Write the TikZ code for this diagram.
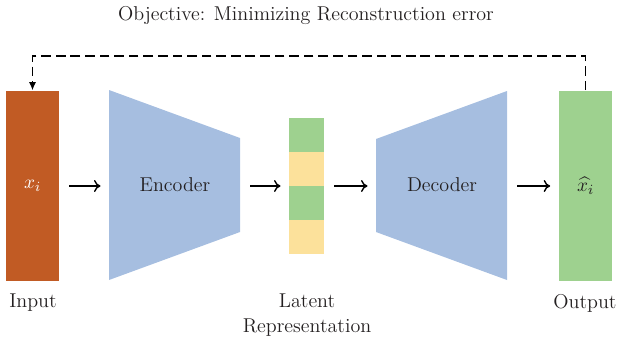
\documentclass[tikz,border=0pt]{standalone}
\usepackage{amsmath}
\usepackage{amssymb}
\usepackage{tikz}
\usetikzlibrary{arrows.meta}
\definecolor{inorange}{RGB}{193,91,36}
\definecolor{netblue}{RGB}{166,190,224}
\definecolor{latgreen}{RGB}{158,209,143}
\definecolor{latyellow}{RGB}{252,225,155}
\definecolor{txtgray}{RGB}{35,31,32}

\begin{document}
\begin{tikzpicture}[x=0.02cm,y=-0.02cm,
	vec/.style={rectangle,inner sep=0pt,minimum width=1.06cm,minimum height=3.82cm},
	cell/.style={rectangle,inner sep=0pt,minimum width=0.7cm,minimum height=0.68cm},
	flow/.style={-{To[length=1.3mm,width=2.4mm]},line width=0.8pt,shorten <=0.2cm,shorten >=0.17cm},
	txt/.style={text=txtgray,font=\fontsize{11.4}{14}\selectfont}]
	\useasboundingbox (0,0) rectangle (617,345);
	\node[txt] (title) at (306,16) {Objective: Minimizing Reconstruction error};
	\node[vec,fill=inorange,text=white,font=\fontsize{11.4}{14}\selectfont] (in) at (32.5,186) {$x_i$};
	\node[vec,fill=latgreen,txt] (out) at (585.5,186) {$\widehat{x_i}$};
	\fill[netblue] (109,90) -- (240,138) -- (240,232) -- (109,280) -- cycle;
	\node[txt] (enc) at (175,185) {Encoder};
	\coordinate (enc-in) at (109,186);
	\coordinate (enc-out) at (240,186);
	\node[cell,fill=latgreen] (z1) at (306.5,135) {};
	\node[cell,fill=latyellow] (z2) at (306.5,169) {};
	\node[cell,fill=latgreen] (z3) at (306.5,203) {};
	\node[cell,fill=latyellow] (z4) at (306.5,237) {};
	\coordinate (lat-in) at (289,186);
	\coordinate (lat-out) at (324,186);
	\fill[netblue] (376,139) -- (507,91) -- (507,280) -- (376,232) -- cycle;
	\node[txt] (dec) at (442,185) {Decoder};
	\coordinate (dec-in) at (376,186);
	\coordinate (dec-out) at (507,186);
	\draw[flow] (in.east) -- (enc-in);
	\draw[flow] (enc-out) -- (lat-in);
	\draw[flow] (lat-out) -- (dec-in);
	\draw[flow] (dec-out) -- (out.west);
	\coordinate (loop) at (0,56);
	\draw[dash pattern=on 5.5pt off 2.8pt,line width=0.6pt,-{Latex[length=1.6mm,width=1.4mm]}] (out.north) -- (out.north |- loop) -| (in.north);
	\node[txt] (inlbl) at (33,303) {Input};
	\node[txt,align=center] (latlbl) at (307,315) {Latent\\Representation};
	\node[txt] (outlbl) at (585,303) {Output};
\end{tikzpicture}
\end{document}
